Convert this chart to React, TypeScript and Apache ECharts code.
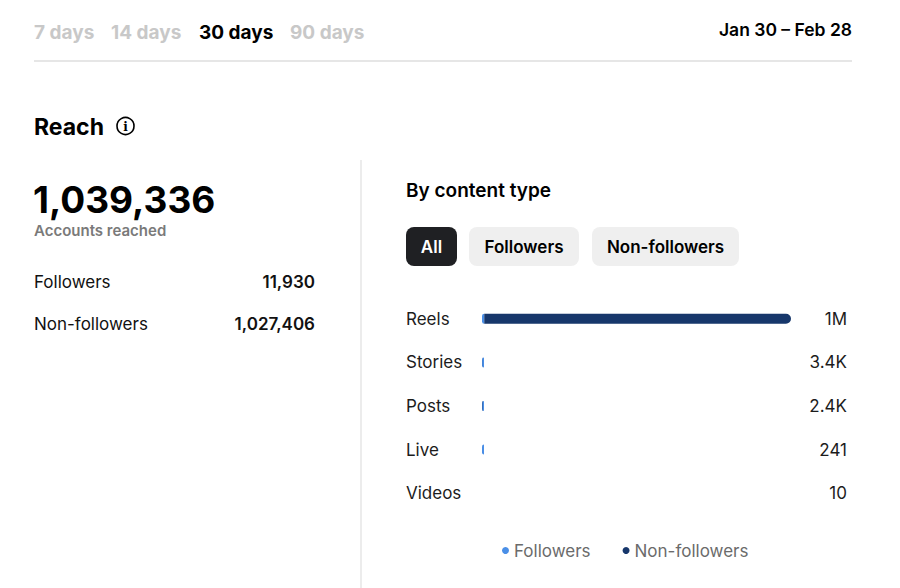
import React, { useEffect, useRef } from "react";
import * as echarts from "echarts";

const categories = ["Reels", "Stories", "Posts", "Live", "Videos"];
const followersValues: (number | null)[] = [7600, 2900, 1200, 200, null];
const nonFollowersValues = [1025700, 500, 1200, 41, 10];
const periodTabs = ["7 days", "14 days", "30 days", "90 days"];
const activeTab = "30 days";
const chipLabels = ["All", "Followers", "Non-followers"];
const seriesNames = ["Followers", "Non-followers"];

const totalReach = 1039336;
const followersTotal = 11930;
const nonFollowersTotal = 1027406;

const totals = categories.map((_, i) => (followersValues[i] || 0) + (nonFollowersValues[i] || 0));
const fmt = (v: number) =>
  v >= 1e6 ? Math.round(v / 1e6) + "M" : v >= 1e3 ? (v / 1e3).toFixed(1) + "K" : String(v);
const valueLabels = totals.map(fmt);

const FONT = "Inter, 'Noto Sans', sans-serif";
const FOLLOW = "#4a8fe7";
const NONFOLLOW = "#17376b";

export default function App() {
  const ref = useRef<HTMLDivElement>(null);
  useEffect(() => {
    document.body.style.margin = "0";
    const chart = echarts.init(ref.current!, null, { renderer: "svg" });
    const tabX = [34, 111, 199, 290];
    const chipX = [406, 469, 592];
    const chipW = [51, 110, 147];
    const graphic: any[] = [];
    periodTabs.forEach((t, i) => {
      graphic.push({
        type: "text", x: tabX[i], y: 32,
        style: { text: t, fontFamily: FONT, fontSize: 19, fontWeight: 700, fill: t === activeTab ? "#000" : "#c8c8c8", verticalAlign: "middle" },
      });
    });
    graphic.push(
      { type: "text", x: 852, y: 29, style: { text: "Jan 30 – Feb 28", fontFamily: FONT, fontSize: 17.5, fontWeight: 600, fill: "#000", align: "right", verticalAlign: "middle" } },
      { type: "line", shape: { x1: 34, y1: 61, x2: 852, y2: 61 }, style: { stroke: "#e6e6e6", lineWidth: 2 } },
      { type: "text", x: 34, y: 127, style: { text: "Reach", fontFamily: FONT, fontSize: 23, fontWeight: 700, fill: "#000", verticalAlign: "middle" } },
      { type: "circle", shape: { cx: 125.5, cy: 126, r: 8.5 }, style: { fill: "none", stroke: "#000", lineWidth: 1.6 } },
      { type: "text", x: 125.5, y: 126.5, style: { text: "i", fontFamily: "'DejaVu Serif', serif", fontSize: 12, fontWeight: 700, fill: "#000", align: "center", verticalAlign: "middle" } },
      { type: "text", x: 33, y: 199, style: { text: totalReach.toLocaleString("en-US"), fontFamily: FONT, fontSize: 37, lineHeight: 30, fontWeight: 700, fill: "#000", verticalAlign: "middle" } },
      { type: "text", x: 34, y: 230, style: { text: "Accounts reached", fontFamily: FONT, fontSize: 15, lineHeight: 16, fontWeight: 600, fill: "#7a7a7a", verticalAlign: "middle" } },
      { type: "text", x: 34, y: 282, style: { text: "Followers", fontFamily: FONT, fontSize: 17, fill: "#111", verticalAlign: "middle" } },
      { type: "text", x: 315, y: 282, style: { text: followersTotal.toLocaleString("en-US"), fontFamily: FONT, fontSize: 17, fontWeight: 600, fill: "#111", align: "right", verticalAlign: "middle" } },
      { type: "text", x: 34, y: 324, style: { text: "Non-followers", fontFamily: FONT, fontSize: 17, fill: "#111", verticalAlign: "middle" } },
      { type: "text", x: 315, y: 324, style: { text: nonFollowersTotal.toLocaleString("en-US"), fontFamily: FONT, fontSize: 17, fontWeight: 600, fill: "#111", align: "right", verticalAlign: "middle" } },
      { type: "line", shape: { x1: 361, y1: 160, x2: 361, y2: 588 }, style: { stroke: "#e6e6e6", lineWidth: 1.5 } },
      { type: "text", x: 406, y: 190, style: { text: "By content type", fontFamily: FONT, fontSize: 19, fontWeight: 600, fill: "#000", verticalAlign: "middle" } }
    );
    chipLabels.forEach((c, i) => {
      graphic.push(
        { type: "rect", shape: { x: chipX[i], y: 227, width: chipW[i], height: 39, r: 8 }, style: { fill: i === 0 ? "#1f2023" : "#efefef" } },
        { type: "text", x: chipX[i] + chipW[i] / 2, y: 247, style: { text: c, fontFamily: FONT, fontSize: 17, fontWeight: 600, fill: i === 0 ? "#fff" : "#000", align: "center", verticalAlign: "middle" } }
      );
    });

    chart.setOption({
      animation: false,
      backgroundColor: "#fff",
      graphic,
      legend: {
        data: seriesNames,
        left: 497,
        top: 537,
        icon: "circle",
        itemWidth: 7,
        itemHeight: 7,
        itemGap: 32,
        textStyle: { fontFamily: FONT, fontSize: 17, color: "#6b6b6b" },
      },
      grid: { left: 482, right: 109, top: 297, height: 218 },
      xAxis: {
        type: "value",
        min: 0,
        max: Math.max(...totals),
        show: false,
      },
      yAxis: [
        {
          type: "category",
          data: categories,
          inverse: true,
          axisLine: { show: false },
          axisTick: { show: false },
          axisLabel: { align: "left", margin: 76, fontFamily: FONT, fontSize: 17, color: "#1c1c1c" },
        },
        {
          type: "category",
          data: valueLabels,
          inverse: true,
          position: "right",
          axisLine: { show: false },
          axisTick: { show: false },
          axisLabel: { align: "right", margin: 56, fontFamily: FONT, fontSize: 17, color: "#1c1c1c" },
        },
      ],
      series: [
        {
          name: seriesNames[0],
          type: "bar",
          stack: "reach",
          data: followersValues,
          barWidth: 10,
          barMinHeight: 2,
          itemStyle: { color: FOLLOW, borderRadius: [5, 0, 0, 5] },
        },
        {
          name: seriesNames[1],
          type: "bar",
          stack: "reach",
          data: nonFollowersValues,
          barWidth: 10,
          itemStyle: { color: NONFOLLOW, borderRadius: [0, 5, 5, 0] },
        },
      ],
    });
    return () => chart.dispose();
  }, []);
  return <div ref={ref} style={{ width: 900, height: 588 }} />;
}
